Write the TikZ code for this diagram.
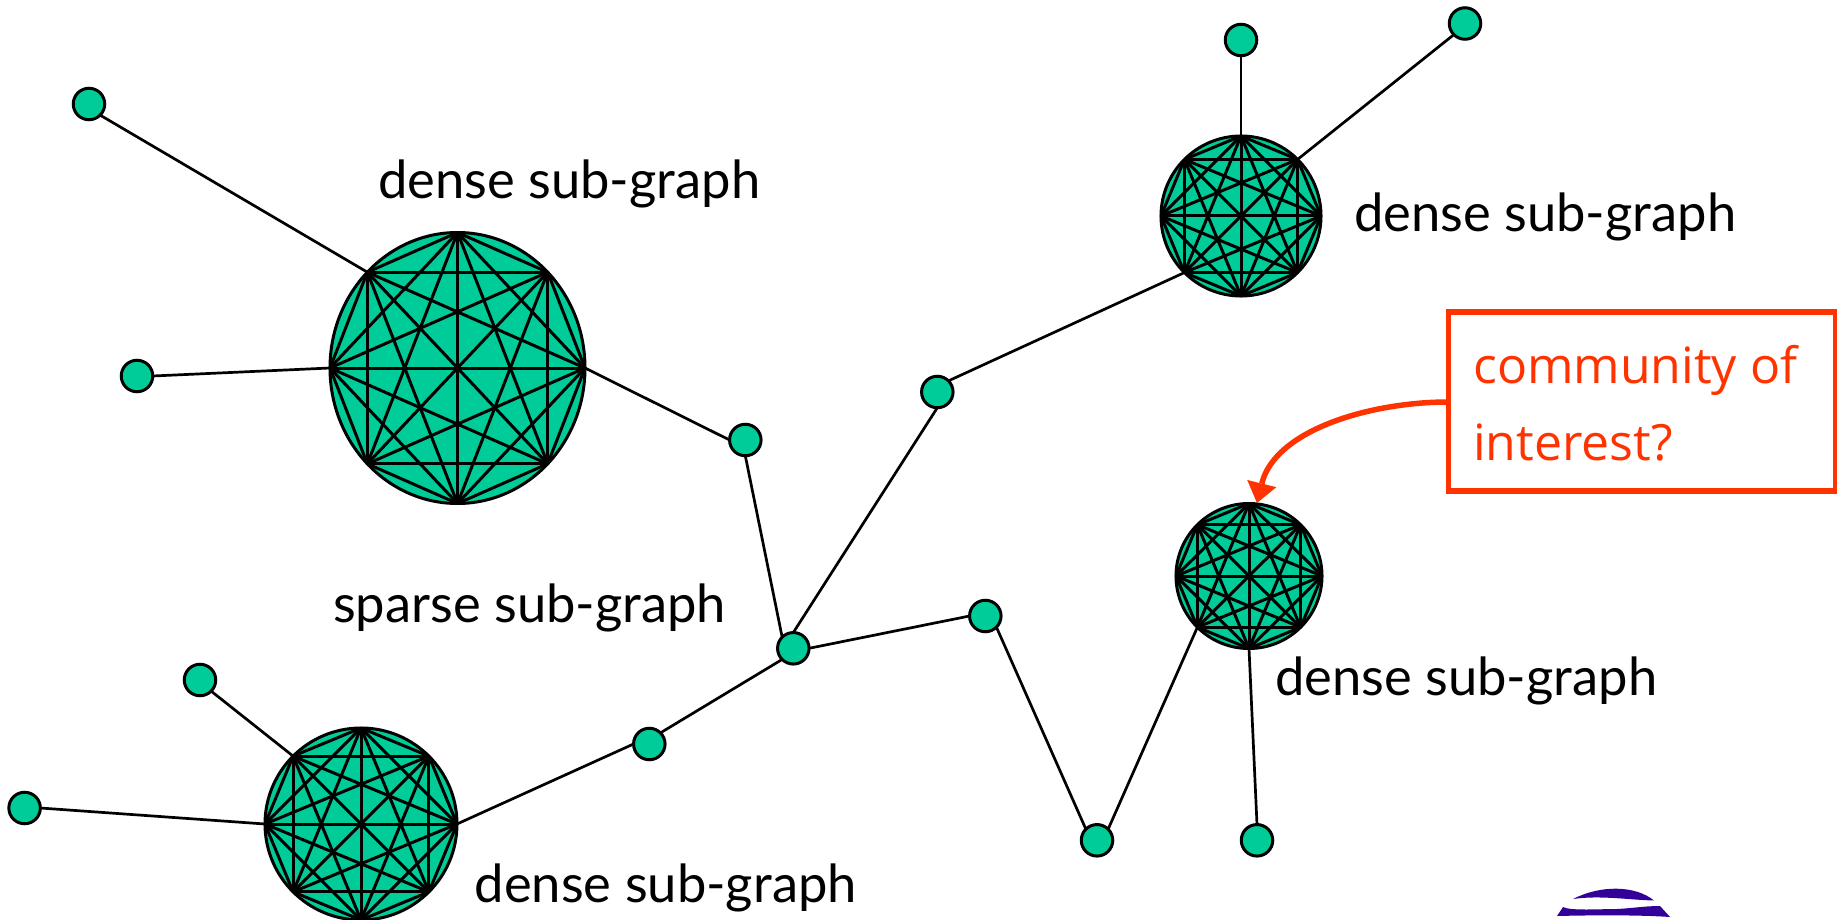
\documentclass[tikz,border=0pt]{standalone}
\usepackage{fontspec}
\setmainfont{Lato}
\newfontfamily\redfont{Open Sans}
\usetikzlibrary{shapes.geometric,backgrounds,arrows.meta}
\definecolor{nodegreen}{RGB}{0,204,153}
\definecolor{callred}{RGB}{255,51,0}
\definecolor{logopurple}{RGB}{51,0,153}
\tikzset{
  small/.style={circle,draw=black,fill=nodegreen,line width=3pt,minimum size=31.5pt,inner sep=0pt,outer sep=0pt},
  dense/.style={ellipse,draw=black,fill=nodegreen,line width=3pt,inner sep=0pt,outer sep=0pt},
  conn/.style={draw=black,line width=2.7pt},
  chord/.style={draw=black,line width=3pt},
  lab/.style={anchor=base west,inner sep=0pt,font=\fontsize{52.5}{55}\selectfont},
  callbox/.style={draw=callred,line width=5.5pt,inner sep=0pt,outer sep=0pt,fill=white},
  redtext/.style={anchor=base west,inner sep=0pt,text=callred,font=\redfont\fontsize{50}{54}\selectfont},
}
\newcommand{\densegraph}[5]{%
  \node[dense,minimum width=2*#4pt,minimum height=2*#5pt] (#1) at (#2,#3) {};
  \foreach \a in {0,45,...,315}{
    \coordinate (#1-\a) at ([shift={(\a:#4pt and #5pt)}]#1.center);
  }
  \foreach \a in {0,45,...,315}{
    \foreach \b in {0,45,...,315}{
      \ifnum\a<\b \draw[chord] (#1-\a) -- (#1-\b); \fi
    }
  }
}
\begin{document}
\begin{tikzpicture}[x=1pt,y=-1pt]
\useasboundingbox (0,0) rectangle (1837,920);
\clip (0,0) rectangle (1837,920);
\densegraph{big}{457.5}{368}{127.5}{135.5}
\densegraph{tr}{1241}{216}{80}{80}
\densegraph{lr}{1249}{576}{73}{72.5}
\densegraph{bl}{361}{824}{96}{96}
\node[small] (n1) at (89,104) {};
\node[small] (n2) at (137,376) {};
\node[small] (n3) at (745.3,440) {};
\node[small] (n4) at (937.3,392) {};
\node[small] (n5) at (1241,40) {};
\node[small] (n6) at (1465,23.5) {};
\node[small] (hub) at (793.3,648.3) {};
\node[small] (n7) at (985.3,616) {};
\node[small] (n8) at (649.3,744) {};
\node[small] (n9) at (200,680) {};
\node[small] (n10) at (24.6,808) {};
\node[small] (n11) at (1097,840.3) {};
\node[small] (n12) at (1257,840.3) {};
\begin{scope}[on background layer]
\draw[conn] (n1.-45) -- (big-135);
\draw[conn] (n2.east) -- (big-180);
\draw[conn] (big-0) -- (n3.west);
\draw[conn] (n3.south) -- (hub.135);
\draw[conn] (hub.north) -- (n4.south);
\draw[conn] (n4.45) -- (tr-225);
\draw[conn] (tr-90) -- (n5.south);
\draw[conn] (tr-45) -- (n6.225);
\draw[conn] (hub.east) -- (n7.west);
\draw[conn] (n7.-45) -- (n11.135);
\draw[conn] (n11.45) -- (lr-225);
\draw[conn] (lr-270) -- (n12.north);
\draw[conn] (hub.225) -- (n8.45);
\draw[conn] (n8.west) -- (bl-0);
\draw[conn] (bl-135) -- (n9.-45);
\draw[conn] (bl-180) -- (n10.east);
\end{scope}
\node[lab] (t1) at (378,199) {dense sub-graph};
\node[lab] (t2) at (1354,232) {dense sub-graph};
\node[lab] (t3) at (1275,695) {dense sub-graph};
\node[lab] (t4) at (474.5,902) {dense sub-graph};
\node[lab] (t5) at (333,622) {sparse sub-graph};
\node[callbox,minimum width=387pt,minimum height=179pt] (box) at (1642,401.5) {};
\node[redtext] (r1) at (1473,383) {community of};
\node[redtext] (r2) at (1473,460) {interest?};
\coordinate (tip) at (1257,503);
\draw[draw=callred,line width=5.5pt,-{Triangle[length=20pt,width=30pt,line width=0pt,fill=callred]}] (box.west |- 0,402) .. controls (1370,402) and (1275,430) .. (tip);
\fill[logopurple] (1573,899) .. controls (1600,885) and (1635,885) .. (1654,900.5) .. controls (1630,900) and (1600,895) .. (1573,899) -- cycle;
\fill[logopurple] (1557,916) -- (1563,907) .. controls (1570,911) and (1600,909) .. (1617,909) .. controls (1635,908) and (1645,906) .. (1660,906) -- (1670,917) .. controls (1640,915) and (1600,915) .. (1557,916) -- cycle;
\end{tikzpicture}
\end{document}
